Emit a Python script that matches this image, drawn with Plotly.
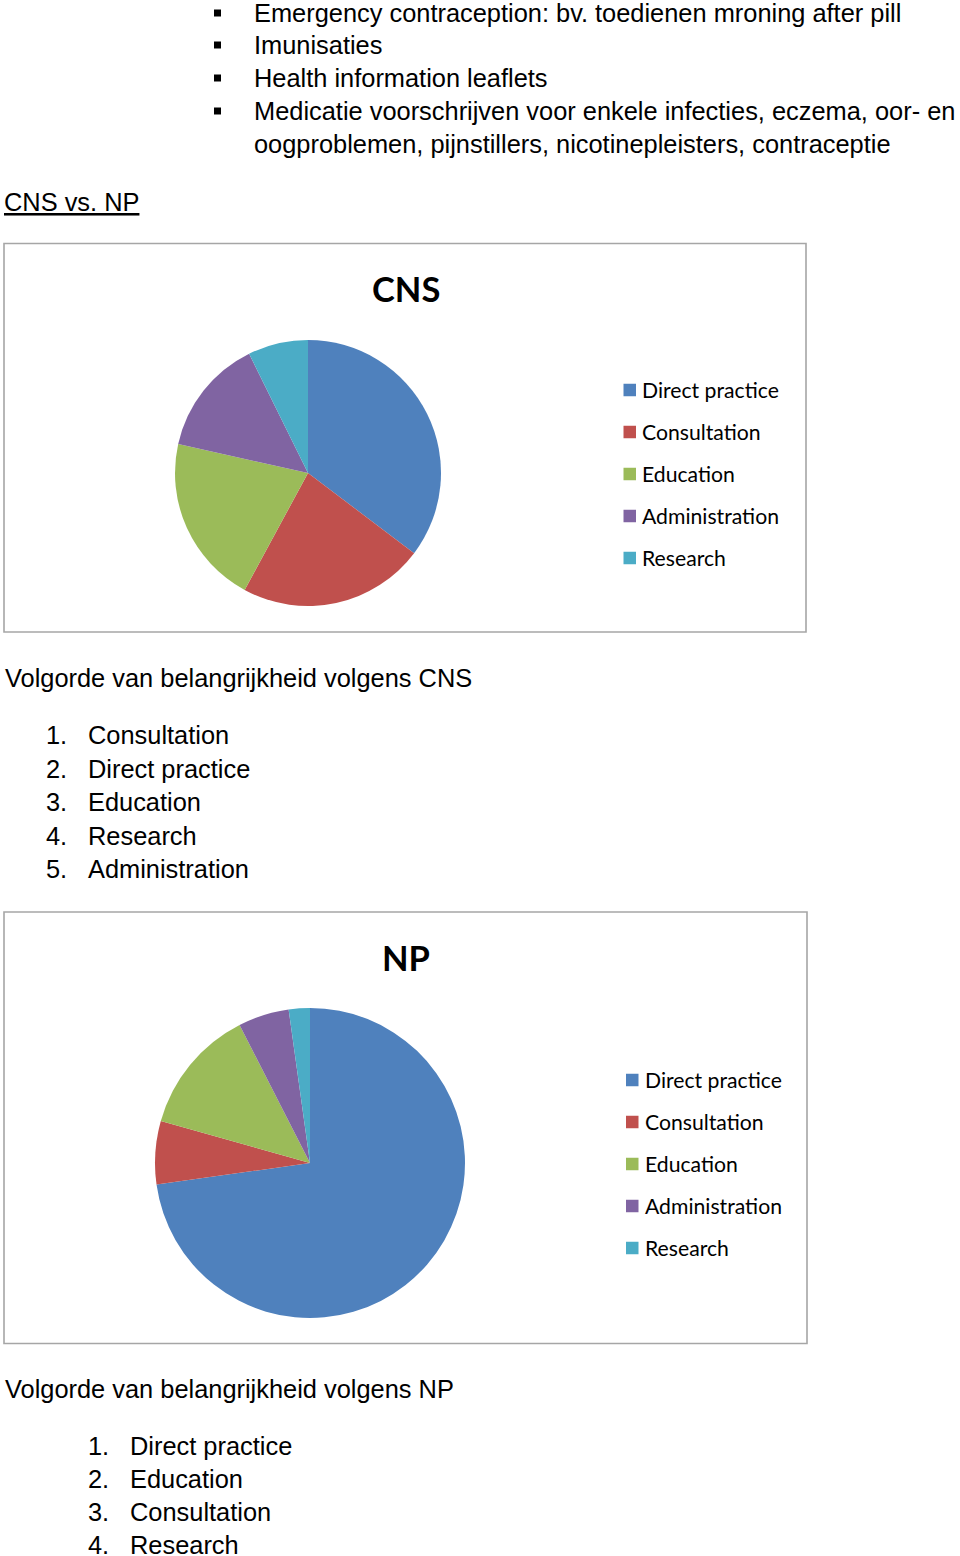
import plotly.graph_objects as go

W, H = 960, 1556

# ---- data ----
categories = ["Direct practice", "Consultation", "Education", "Administration", "Research"]
cns_values = [35.3, 22.6, 20.6, 14.2, 7.3]
np_values = [72.7, 6.6, 13.1, 5.3, 2.2]
colors = ["#4F81BD", "#C0504D", "#9BBB59", "#8064A2", "#4BACC6"]

bullet_lines = [
    "Emergency contraception: bv. toedienen mroning after pill",
    "Imunisaties",
    "Health information leaflets",
    "Medicatie voorschrijven voor enkele infecties, eczema, oor- en",
]
continuation_line = "oogproblemen, pijnstillers, nicotinepleisters, contraceptie"
section_title = "CNS vs. NP"
cns_title = "CNS"
np_title = "NP"
cns_rank_title = "Volgorde van belangrijkheid volgens CNS"
cns_rank = ["Consultation", "Direct practice", "Education", "Research", "Administration"]
np_rank_title = "Volgorde van belangrijkheid volgens NP"
np_rank = ["Direct practice", "Education", "Consultation", "Research"]

# ---- helpers (pixel -> paper) ----
def px(x):
    return x / W

def py(y):
    return 1 - y / H

def dom(cx, cy, r):
    return dict(x=[px(cx - r), px(cx + r)], y=[py(cy + r), py(cy - r)])

BODY = dict(family="Liberation Sans, Arial, sans-serif", size=25.4, color="#000000")
LEG = dict(family="Lato, Carlito, Calibri, sans-serif", size=21.2, color="#000000")
TITLE = dict(family="Lato, Carlito, Calibri, sans-serif", size=34.5, color="#000000")

fig = go.Figure()

fig.add_trace(go.Pie(
    labels=categories, values=cns_values, sort=False, direction="clockwise", rotation=0,
    marker=dict(colors=colors, line=dict(width=0)), textinfo="none", showlegend=False,
    domain=dom(308, 473, 133), hoverinfo="label+percent",
))
fig.add_trace(go.Pie(
    labels=categories, values=np_values, sort=False, direction="clockwise", rotation=0,
    marker=dict(colors=colors, line=dict(width=0)), textinfo="none", showlegend=False,
    domain=dom(310, 1163, 155), hoverinfo="label+percent",
))

annotations = []
shapes = []

def text(x, y, s, font, xanchor="left", height=None):
    ann = dict(
        x=px(x), y=py(y), xref="paper", yref="paper", text=s, showarrow=False,
        xanchor=xanchor, yanchor="middle", font=font, borderpad=0,
    )
    if height is not None:
        ann["height"] = height
        ann["valign"] = "middle"
    annotations.append(ann)

# bullet list at top
bullet_y = [13, 45, 78, 111]
for yy, s in zip(bullet_y, bullet_lines):
    shapes.append(dict(type="rect", xref="paper", yref="paper",
                       x0=px(214), x1=px(221), y0=py(yy + 3.5), y1=py(yy - 3.5),
                       fillcolor="#000000", line=dict(width=0)))
    text(253, yy, s, BODY)
text(253, 144.5, continuation_line, BODY)

# section title (underlined)
text(3, 202, "<u>" + section_title + "</u>", BODY)

# chart boxes
for (x0, y0, x1, y1) in [(4, 243.5, 806, 632), (4, 912, 807, 1343.5)]:
    shapes.append(dict(type="rect", xref="paper", yref="paper",
                       x0=px(x0), x1=px(x1), y0=py(y1), y1=py(y0),
                       line=dict(color="#A6A6A6", width=1.6), fillcolor="rgba(0,0,0,0)"))

# chart titles
text(406, 288, "<b>" + cns_title + "</b>", TITLE, xanchor="center")
text(406, 957, "<b>" + np_title + "</b>", TITLE, xanchor="center")

# legends
def legend(sq_x, text_x, y_start):
    for i, (lab, col) in enumerate(zip(categories, colors)):
        yy = y_start + 42 * i
        shapes.append(dict(type="rect", xref="paper", yref="paper",
                           x0=px(sq_x), x1=px(sq_x + 12.5), y0=py(yy + 6.25), y1=py(yy - 6.25),
                           fillcolor=col, line=dict(width=0)))
        text(text_x, yy, lab, LEG)

legend(623.5, 641, 390)
legend(626, 644, 1080)

# ranking lists
text(4, 678, cns_rank_title, BODY)
for i, s in enumerate(cns_rank):
    yy = 735 + 33.6 * i
    text(45, yy, f"{i + 1}.", BODY)
    text(86.5, yy, s, BODY)

text(4, 1389, np_rank_title, BODY)
for i, s in enumerate(np_rank):
    yy = 1446 + 33.2 * i
    last = i == len(np_rank) - 1
    text(87, yy - (1 if last else 0), f"{i + 1}.", BODY, height=20 if last else None)
    text(128.5, yy - (1 if last else 0), s, BODY, height=20 if last else None)

fig.update_layout(
    width=W, height=H, margin=dict(l=0, r=0, t=0, b=0),
    paper_bgcolor="#FFFFFF", plot_bgcolor="#FFFFFF",
    showlegend=False, annotations=annotations, shapes=shapes,
)

fig.write_html(
    "out.html",
    config={"displayModeBar": False},
    post_script="document.body.style.margin='0';document.body.style.overflow='hidden';",
)
